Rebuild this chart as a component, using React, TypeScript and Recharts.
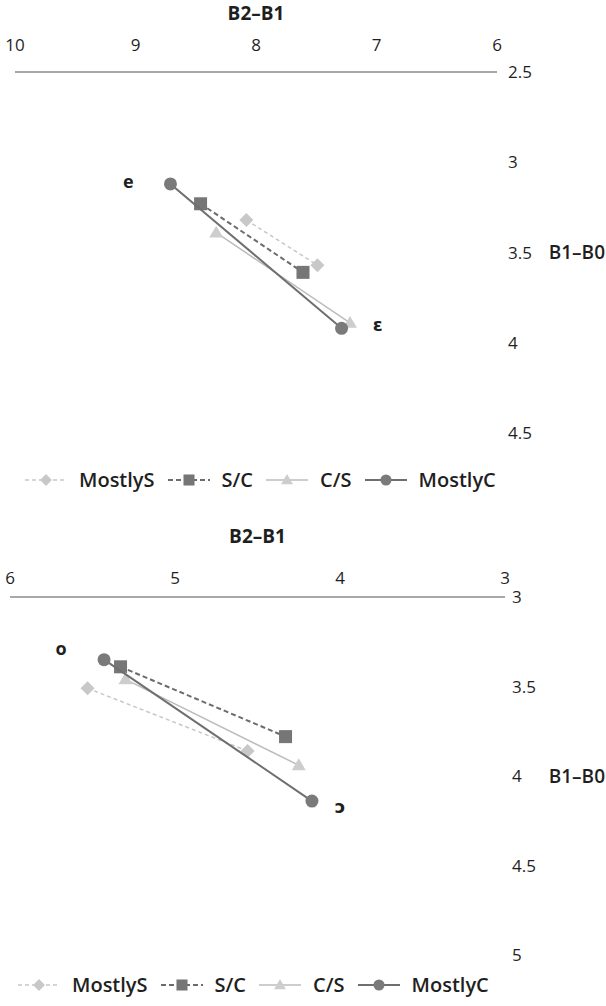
import { ScatterChart, Scatter, XAxis, YAxis, Legend } from "recharts";

const FONT = '"Open Sans", "DejaVu Sans", sans-serif';
const INK = "#1f1f1f";

// upper panel (front vowels)
const xTicksTop = [10, 9, 8, 7, 6];
const yTicksTop = [2.5, 3, 3.5, 4, 4.5];
const mostlySTop = [{ x: 8.08, y: 3.32 }, { x: 7.49, y: 3.57 }];
const scTop = [{ x: 8.46, y: 3.23 }, { x: 7.61, y: 3.61 }];
const csTop = [{ x: 8.33, y: 3.39 }, { x: 7.22, y: 3.89 }];
const mostlyCTop = [{ x: 8.71, y: 3.12 }, { x: 7.29, y: 3.92 }];
const vowelsTop = [{ x: 9.06, y: 3.11, text: "e" }, { x: 6.99, y: 3.9, text: "ɛ" }];

// lower panel (back vowels)
const xTicksBottom = [6, 5, 4, 3];
const yTicksBottom = [3, 3.5, 4, 4.5, 5];
const mostlySBottom = [{ x: 5.53, y: 3.51 }, { x: 4.56, y: 3.86 }];
const scBottom = [{ x: 5.33, y: 3.39 }, { x: 4.33, y: 3.78 }];
const csBottom = [{ x: 5.3, y: 3.46 }, { x: 4.25, y: 3.94 }];
const mostlyCBottom = [{ x: 5.43, y: 3.35 }, { x: 4.17, y: 4.14 }];
const vowelsBottom = [{ x: 5.69, y: 3.29, text: "o" }, { x: 4.0, y: 4.17, text: "ɔ" }];

type Pt = { x: number; y: number };
type Vowel = Pt & { text: string };

const SERIES = [
  { name: "MostlyS", shape: "diamond", fill: "#c8c8c8", stroke: "#c8c8c8", dash: "4 3", width: 1.5 },
  { name: "S/C", shape: "square", fill: "#767676", stroke: "#6c6c6c", dash: "5 3", width: 2 },
  { name: "C/S", shape: "triangle", fill: "#cdcdcd", stroke: "#bcbcbc", dash: undefined, width: 1.5 },
  { name: "MostlyC", shape: "circle", fill: "#7a7a7a", stroke: "#6f6f6f", dash: undefined, width: 2 },
];

function marker(shape: string, cx: number, cy: number, fill: string, s = 1) {
  if (shape === "diamond") {
    const r = 7 * s;
    return <polygon points={`${cx},${cy - r} ${cx + r},${cy} ${cx},${cy + r} ${cx - r},${cy}`} fill={fill} />;
  }
  if (shape === "square") {
    const h = 6.5 * s;
    return <rect x={cx - h} y={cy - h} width={h * 2} height={h * 2} fill={fill} />;
  }
  if (shape === "triangle") {
    const r = 7 * s;
    return <polygon points={`${cx},${cy - r} ${cx + r},${cy + r * 0.7} ${cx - r},${cy + r * 0.7}`} fill={fill} />;
  }
  return <circle cx={cx} cy={cy} r={6.5 * s} fill={fill} />;
}

function LegendBox({ pad, left }: { pad: number; left: number }) {
  return (
    <div style={{ display: "flex", alignItems: "center", paddingTop: pad, paddingLeft: left, fontFamily: FONT }}>
      {SERIES.map((s) => (
        <div key={s.name} style={{ display: "flex", alignItems: "center", marginRight: 13 }}>
          <svg width={42} height={20}>
            <line x1={0} y1={10} x2={42} y2={10} stroke={s.stroke} strokeWidth={s.width} strokeDasharray={s.dash} />
            {marker(s.shape, 21, 10, s.fill, 0.85)}
          </svg>
          <span style={{ marginLeft: 12, fontSize: 20, fontWeight: 600, color: INK, lineHeight: "20px" }}>{s.name}</span>
        </div>
      ))}
    </div>
  );
}

type PanelProps = {
  top: number;
  height: number;
  left: number;
  yWidth: number;
  xHeight: number;
  titleOffset: number;
  xTickMargin: number;
  yTickMargin: number;
  xDomain: [number, number];
  xTicks: number[];
  yDomain: [number, number];
  yTicks: number[];
  data: Pt[][];
  vowels: Vowel[];
  legendHeight: number;
  legendPad: number;
  legendLeft: number;
};

function Panel(p: PanelProps) {
  const tickStyle = { fill: INK, fontSize: 17, fontFamily: FONT };
  return (
    <div style={{ position: "absolute", top: p.top, left: 0 }}>
      <ScatterChart width={606} height={p.height} margin={{ top: 0, right: 0, bottom: 0, left: p.left }}>
        <XAxis
          dataKey="x"
          type="number"
          orientation="top"
          reversed
          domain={p.xDomain}
          ticks={p.xTicks}
          interval={0}
          height={p.xHeight}
          tickLine={false}
          tickMargin={p.xTickMargin}
          axisLine={{ stroke: "#a8a8a8", strokeWidth: 2 }}
          tick={tickStyle}
          label={{ value: "B2–B1", position: "insideTop", offset: p.titleOffset, fill: INK, fontSize: 19, fontWeight: 700, fontFamily: FONT }}
        />
        <YAxis
          dataKey="y"
          type="number"
          orientation="right"
          reversed
          domain={p.yDomain}
          ticks={p.yTicks}
          interval={0}
          width={p.yWidth}
          axisLine={false}
          tickLine={false}
          tickMargin={p.yTickMargin}
          tick={tickStyle}
          label={{ value: "B1–B0", position: "insideRight", offset: 1, fill: INK, fontSize: 19, fontWeight: 600, fontFamily: FONT }}
        />
        {SERIES.map((s, i) => (
          <Scatter
            key={s.name}
            name={s.name}
            data={p.data[i]}
            fill={s.fill}
            isAnimationActive={false}
            line={{ stroke: s.stroke, strokeWidth: s.width, strokeDasharray: s.dash }}
            shape={(sp: any) => marker(s.shape, sp.cx, sp.cy, s.fill)}
          />
        ))}
        <Scatter
          name="vowels"
          data={p.vowels}
          isAnimationActive={false}
          legendType="none"
          shape={(sp: any) => (
            <text x={sp.cx} y={sp.cy} dy="0.35em" textAnchor="middle" fontSize={18} fontWeight={700} fill={INK} fontFamily={FONT}>
              {sp.payload.text}
            </text>
          )}
        />
        <Legend
          verticalAlign="bottom"
          height={p.legendHeight}
          content={() => <LegendBox pad={p.legendPad} left={p.legendLeft} />}
        />
      </ScatterChart>
    </div>
  );
}

export default function App() {
  return (
    <div style={{ position: "absolute", top: 0, left: 0, width: 606, height: 1006, background: "#fff" }}>
      <Panel
        top={0}
        height={505}
        left={15}
        yWidth={109}
        xHeight={72}
        titleOffset={7}
        xTickMargin={15}
        yTickMargin={5}
        xDomain={[6, 10]}
        xTicks={xTicksTop}
        yDomain={[2.5, 4.5]}
        yTicks={yTicksTop}
        data={[mostlySTop, scTop, csTop, mostlyCTop]}
        vowels={vowelsTop}
        legendHeight={72}
        legendPad={37}
        legendLeft={10}
      />
      <Panel
        top={518}
        height={488}
        left={10}
        yWidth={101}
        xHeight={79}
        titleOffset={12}
        xTickMargin={7}
        yTickMargin={1}
        xDomain={[3, 6]}
        xTicks={xTicksBottom}
        yDomain={[3, 5]}
        yTicks={yTicksBottom}
        data={[mostlySBottom, scBottom, csBottom, mostlyCBottom]}
        vowels={vowelsBottom}
        legendHeight={51}
        legendPad={20}
        legendLeft={8}
      />
    </div>
  );
}
